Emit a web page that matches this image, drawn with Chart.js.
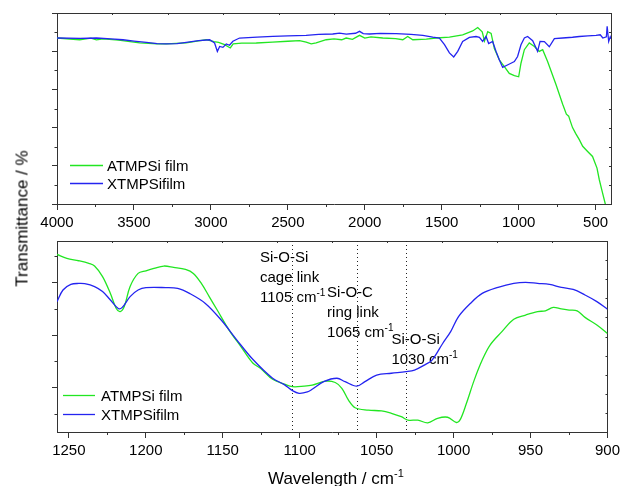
<!DOCTYPE html>
<html><head><meta charset="utf-8">
<script src="https://cdn.jsdelivr.net/npm/chart.js@4"></script>
<style>
html,body{margin:0;padding:0;background:#fff;width:624px;height:486px;overflow:hidden;position:relative}
canvas{position:absolute;left:0}
#c1{top:0}
#c2{top:236px}
.t{position:absolute;font-family:'Liberation Sans',Arial,sans-serif;font-size:17px;color:#000;white-space:nowrap;line-height:17px}
#yt{left:-78px;top:210px;width:200px;text-align:center;transform:rotate(-90deg)}
#xt{left:268px;top:470px}
#xt sup{font-size:11px;vertical-align:0;position:relative;top:-7px;line-height:0}
</style></head><body>
<canvas id="c1" width="624" height="236"></canvas>
<canvas id="c2" width="624" height="250"></canvas>
<div class="t" id="yt">Transmittance / %</div>
<div class="t" id="xt">Wavelength / cm<sup>-1</sup></div>
<script>
const FONT = "'Liberation Sans', Arial, sans-serif";
const GREEN = '#22e622', BLUE = '#2424f0', FRAME = '#333';

const seriesLabels = ['ATMPSi film', 'XTMPSifilm'];

// ---- top panel (full range) ----
const topAtmpsiX = [4000,3853,3780,3744,3700,3600,3463,3350,3290,3160,3080,3030,2980,2950,2911,2874,2855,2800,2705,2600,2500,2424,2381,2348,2316,2251,2200,2150,2121,2080,2034,2000,1960,1883,1800,1753,1721,1688,1600,1537,1450,1364,1299,1266,1237,1222,1201,1179,1158,1126,1093,1061,1028,1000,985,963,931,898,866,844,812,757,714,690,675,665,650,630,606,584,552,520,491,476,455,437,430];
const topAtmpsiY = [86.9,86.0,86.8,85.9,86.5,85.8,84.4,83.9,83.8,84.4,85.4,86.0,85.0,84.6,83.4,81.7,83.8,84.2,84.3,84.8,85.2,85.5,84.8,83.8,84.3,86.0,86.4,86.0,86.9,86.2,88.3,86.9,87.5,86.9,86.6,86.0,87.7,86.0,86.3,86.9,87.4,88.6,90.6,92.4,90.2,85.4,90.2,89.3,81.4,75.5,71.9,68.4,67.2,66.6,73.7,80.8,84.3,82.5,79.9,80.8,74.6,62.4,52.2,47.0,46.0,43.5,40.0,37.0,33.7,30.2,27.5,24.9,18.8,12.7,5.8,0,-3];
const topXtmpsiX = [4000,3850,3744,3650,3571,3500,3419,3350,3290,3220,3160,3080,3008,2976,2958,2943,2922,2900,2879,2857,2814,2700,2597,2500,2381,2300,2208,2164,2120,2060,2034,2010,1969,1900,1796,1700,1623,1558,1515,1482,1450,1422,1396,1364,1320,1277,1255,1234,1212,1195,1169,1147,1126,1104,1083,1050,1028,1007,985,963,942,909,877,861,833,801,768,714,650,606,550,497,470,453,430,425,415,405,400];
const topXtmpsiY = [86.9,86.7,86.9,86.5,86.0,85.3,84.6,84.0,83.8,84.0,84.6,85.5,86.0,84.3,79.9,82.5,82.0,83.8,83.1,85.2,86.9,87.4,87.8,88.0,88.3,88.8,89.0,89.5,88.9,89.4,90.4,89.2,89.0,89.3,89.2,88.8,88.3,87.4,86.9,83.4,79.1,77.0,79.9,85.1,87.2,87.7,87.3,85.1,87.7,84.0,85.1,79.9,75.5,71.5,72.4,73.7,74.6,77.2,83.4,86.9,87.7,85.5,79.9,85.1,85.0,82.3,86.6,86.9,87.3,87.7,88.0,88.3,88.6,86.9,87.5,93.0,85.1,87.5,86.5];
const topXTicks = [4000,3500,3000,2500,2000,1500,1000,500];
const topXMinor = [3750,3250,2750,2250,1750,1250,750];
const topYTicks = [0,20,40,60,80,100];
const topYMinor = [10,30,50,70,90];

// ---- bottom panel (Si-O region) ----
const botAtmpsiX = [1257.7,1251.3,1243.6,1237,1233.3,1228.1,1223,1219.2,1216.6,1214,1210.2,1205,1199.9,1194.7,1188.3,1181.9,1174.2,1169.1,1163.9,1158.8,1153.6,1145.9,1138.2,1130.5,1125.3,1117.6,1110,1104.7,1097.1,1091.9,1083.3,1076.9,1072.6,1068.3,1064,1055.4,1046.8,1040.4,1034,1029.7,1023.2,1016.8,1010.4,1003.9,998.1,995.6,991.7,986.6,981.4,976.3,968.6,960.9,953.2,945.4,940.3,935.2,930,924.9,919.7,914.6,906.9,900];
const botAtmpsiY = [90.6,89.1,88.2,87.2,86.2,82.2,75.8,70.1,68.9,70.8,78.4,83.4,84.4,85.3,86.2,85.7,84.9,83.4,79.6,74.6,69.5,61.9,55.6,49.4,47.3,43.2,41.4,40.4,40.6,41.0,42.5,42.0,39.8,35.3,32.4,31.5,31.2,30.3,29.0,27.7,27.7,26.7,28.4,28.8,26.8,28.0,34.0,42.9,50.5,56.2,61.3,66.0,67.6,68.9,69.2,70.5,69.9,69.5,69.2,66.7,63.8,60.6];
const botXtmpsiX = [1257.7,1253.8,1248.7,1243.6,1239.7,1233.3,1228.1,1223,1217.9,1215.3,1210.2,1205,1199.9,1187,1179.3,1171.6,1161.3,1151,1140.8,1130.5,1117.6,1110,1104.7,1100.4,1095,1091.9,1084.4,1075.8,1070.5,1063,1057.6,1050,1040.4,1031,1025.4,1019,1014,1007.1,1001.9,996.8,989.1,981.4,971.1,960.9,953.2,945.4,937.7,930,922.3,914.6,906.9,900];
const botXtmpsiY = [72.7,77.1,79.2,79.6,79.5,78.4,76.5,73.3,70.1,70.5,74.6,77.1,78.0,78.0,77.7,75.8,72.0,65.7,58.1,50.8,43.6,41.2,38.9,37.9,38.4,39.4,42.3,43.6,42.3,40.6,42.3,44.8,45.5,46.1,46.7,48.6,50.5,56.8,61.3,67.0,72.0,75.8,78.1,79.6,80.0,79.6,79.2,78.1,77.3,75.2,72.7,69.8];
const botXTicks = [1250,1200,1150,1100,1050,1000,950,900];
const botXMinor = [1225,1175,1125,1075,1025,975,925];
const botYTicks = [40,60,80];
const botYMinor = [30,50,70,90];

// annotations (data units)
const annotLineX = [1105, 1063, 1031];
const annotTextX = [1125.8, 1082.2, 1040.4];
const annotTextY = [87.8, 74.3, 56.6];
const annotText = [
  ['Si-O-Si', 'cage link', '1105 cm^-1'],
  ['Si-O-C', 'ring link', '1065 cm^-1'],
  ['Si-O-Si', '1030 cm^-1']
];

const pts = (xs, ys) => xs.map((x, i) => ({x, y: ys[i]}));

function drawSup(ctx, text, x, y, size, supSize, rise) {
  const parts = text.split('^');
  ctx.font = size + 'px ' + FONT;
  ctx.fillText(parts[0], x, y);
  if (parts[1]) {
    const w = ctx.measureText(parts[0]).width;
    ctx.font = supSize + 'px ' + FONT;
    ctx.fillText(parts[1], x + w, y - rise);
  }
}

const decor = {
  id: 'decor',
  afterDraw(chart, args, o) {
    const {ctx, chartArea: a, scales} = chart;
    ctx.save();
    ctx.strokeStyle = FRAME; ctx.lineWidth = 1;
    ctx.beginPath();
    o.xMinor.forEach(v => { const p = Math.round(scales.x.getPixelForValue(v)) + 0.5; ctx.moveTo(p, a.bottom); ctx.lineTo(p, a.bottom + 3); });
    o.yMinor.forEach(v => { const p = Math.round(scales.y.getPixelForValue(v)) + 0.5; ctx.moveTo(a.left, p); ctx.lineTo(a.left - 2.5, p); });
    for (let i = 1; i < 10; i++) {
      const px = Math.round(a.left + (a.right - a.left) * i / 10) + 0.5;
      ctx.moveTo(px, a.top); ctx.lineTo(px, a.top + 2);
      const py = Math.round(a.top + (a.bottom - a.top) * i / 10) + 0.5;
      ctx.moveTo(a.right, py); ctx.lineTo(a.right - 2, py);
    }
    ctx.stroke();
    ctx.restore();
  }
};

const legendBox = {
  id: 'legendBox',
  afterDatasetsDraw(chart, args, o) {
    const {ctx, chartArea: a} = chart;
    ctx.save();
    ctx.font = '15px ' + FONT; ctx.textBaseline = 'alphabetic'; ctx.fillStyle = '#000';
    o.items.forEach((idx, i) => {
      const ds = chart.data.datasets[idx];
      const y = Math.round(a.bottom - o.dy + i * o.row) + 0.5;
      ctx.strokeStyle = ds.borderColor; ctx.lineWidth = 1.3;
      ctx.beginPath(); ctx.moveTo(a.left + o.dx, y); ctx.lineTo(a.left + o.dx + o.len, y); ctx.stroke();
      ctx.fillText(ds.label, a.left + o.dx + o.len + o.gap, y + 5.4);
    });
    ctx.restore();
  }
};

const annot = {
  id: 'annot',
  beforeDatasetsDraw(chart) {
    const {ctx, chartArea: a, scales} = chart;
    ctx.save();
    ctx.strokeStyle = '#222'; ctx.lineWidth = 1; ctx.setLineDash([1, 3]);
    annotLineX.forEach(v => {
      const p = Math.round(scales.x.getPixelForValue(v)) + 0.5;
      ctx.beginPath(); ctx.moveTo(p, a.top); ctx.lineTo(p, a.bottom); ctx.stroke();
    });
    ctx.setLineDash([]);
    ctx.fillStyle = '#000'; ctx.textBaseline = 'alphabetic'; ctx.textAlign = 'left';
    annotText.forEach((lines, k) => {
      const x = scales.x.getPixelForValue(annotTextX[k]);
      const y0 = scales.y.getPixelForValue(annotTextY[k]);
      lines.forEach((t, j) => drawSup(ctx, t, x, y0 + j * 20, 15, 10, 6));
    });
    ctx.restore();
  }
};

function makeScales(xr, yr, xTicks, yTicks, hTop, hBot) {
  const gridOut = (len) => ({drawOnChartArea: false, drawTicks: true, tickLength: len, tickColor: FRAME, tickWidth: 1});
  const border = {display: true, color: FRAME, width: 1};
  return {
    x: {type: 'linear', position: 'bottom', reverse: true, min: xr[0], max: xr[1],
        afterBuildTicks: s => { s.ticks = xTicks.map(v => ({value: v})); },
        ticks: {font: {family: FONT, size: 15}, color: '#000', padding: 4, maxRotation: 0, autoSkip: false, callback: v => String(v)},
        grid: gridOut(6), border, afterFit: s => { s.height = hBot; }},
    x2: {type: 'linear', axis: 'x', position: 'top', reverse: true, min: xr[0], max: xr[1],
        ticks: {display: false}, grid: {drawOnChartArea: false, drawTicks: false}, border,
        afterFit: s => { s.height = hTop; }},
    y: {type: 'linear', position: 'left', min: yr[0], max: yr[1],
        afterBuildTicks: s => { s.ticks = yTicks.map(v => ({value: v})); },
        ticks: {display: false}, grid: gridOut(5), border, afterFit: s => { s.width = 57; }},
    y2: {type: 'linear', axis: 'y', position: 'right', min: yr[0], max: yr[1],
        ticks: {display: false}, grid: {drawOnChartArea: false, drawTicks: false}, border,
        afterFit: s => { s.width = 13; }}
  };
}

function ds(label, data, color, order, tension) {
  return {label, data, borderColor: color, backgroundColor: color, borderWidth: 1.3, pointRadius: 0, tension, order, fill: false};
}

const common = {responsive: false, animation: false, devicePixelRatio: 1, layout: {padding: 0},
  parsing: true, normalized: true};

new Chart(document.getElementById('c1'), {
  type: 'line',
  data: {datasets: [
    ds(seriesLabels[0], pts(topAtmpsiX, topAtmpsiY), GREEN, 1, 0),
    ds(seriesLabels[1], pts(topXtmpsiX, topXtmpsiY), BLUE, 0, 0)
  ]},
  options: Object.assign({}, common, {
    scales: makeScales([400, 4000], [0, 100], topXTicks, topYTicks, 13, 32),
    plugins: {legend: {display: false}, tooltip: {enabled: false},
      decor: {xMinor: topXMinor, yMinor: topYMinor},
      legendBox: {items: [0, 1], dx: 13, len: 33, gap: 4, dy: 38.6, row: 17.7}}
  }),
  plugins: [decor, legendBox]
});

new Chart(document.getElementById('c2'), {
  type: 'line',
  data: {datasets: [
    ds(seriesLabels[0], pts(botAtmpsiX, botAtmpsiY), GREEN, 1, 0.35),
    ds(seriesLabels[1], pts(botXtmpsiX, botXtmpsiY), BLUE, 0, 0.35)
  ]},
  options: Object.assign({}, common, {
    scales: makeScales([900, 1257.7], [23.2, 95.7], botXTicks, botYTicks, 5, 54),
    plugins: {legend: {display: false}, tooltip: {enabled: false},
      decor: {xMinor: botXMinor, yMinor: botYMinor},
      legendBox: {items: [0, 1], dx: 6, len: 32, gap: 6, dy: 36.6, row: 18.3}}
  }),
  plugins: [decor, legendBox, annot]
});
</script>
</body></html>
